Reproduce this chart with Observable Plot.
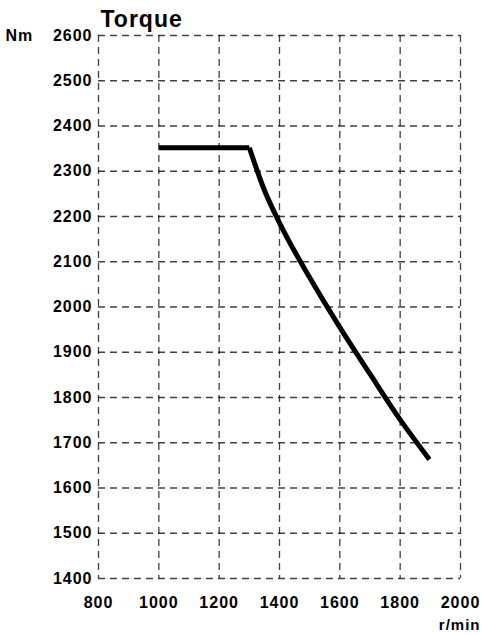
<!DOCTYPE html>
<html><head><meta charset="utf-8">
<script src="https://cdn.jsdelivr.net/npm/d3@7"></script>
<script src="https://cdn.jsdelivr.net/npm/@observablehq/plot@0.6"></script>
<style>body{margin:0;background:#fff}</style>
</head><body><div id="chart"></div>
<script>
// flat (constant-torque) part
const flatRpm = [1000, 1300];
const flatTorque = [2352, 2352];
// falling part
const fallRpm = [1300, 1350, 1400, 1500, 1600, 1700, 1800, 1897];
const fallTorque = [2352, 2258, 2186, 2065, 1955, 1852, 1751, 1663];
const xTicks = [800, 1000, 1200, 1400, 1600, 1800, 2000];
const yTicks = [1400, 1500, 1600, 1700, 1800, 1900, 2000, 2100, 2200, 2300, 2400, 2500, 2600];
const titleText = "Torque";
const yUnit = "Nm";
const xUnit = "r/min";

const flat = flatRpm.map((r, i) => ({rpm: r, torque: flatTorque[i]}));
const fall = fallRpm.map((r, i) => ({rpm: r, torque: fallTorque[i]}));
const font = "'Liberation Sans', Arial, Helvetica, sans-serif";
const gridStyle = {stroke: "#000", strokeOpacity: 0.75, strokeWidth: 1.3, strokeDasharray: "7,5"};

const chart = Plot.plot({
  width: 482,
  height: 635,
  marginLeft: 98,
  marginRight: 22,
  marginTop: 35,
  marginBottom: 57,
  style: {fontFamily: font, fontWeight: "bold", fontSize: "16px", background: "#fff", color: "#000", letterSpacing: "1px"},
  x: {domain: [800, 2000]},
  y: {domain: [1400, 2600]},
  marks: [
    Plot.gridX(xTicks, gridStyle),
    Plot.gridY(yTicks, gridStyle),
    Plot.axisX(xTicks, {tickSize: 0, tickPadding: 18, label: null, tickFormat: d => String(d), fontWeight: "bold"}),
    Plot.axisY(yTicks, {tickSize: 0, tickPadding: 6, label: null, tickFormat: d => String(d), fontWeight: "bold"}),
    Plot.line(flat, {x: "rpm", y: "torque", stroke: "#000", strokeWidth: 5, strokeLinecap: "butt"}),
    Plot.line(fall, {x: "rpm", y: "torque", stroke: "#000", strokeWidth: 5, curve: "monotone-x", strokeLinecap: "butt"}),
    Plot.text([titleText], {frameAnchor: "top-left", dx: 2, dy: -9, textAnchor: "start", lineAnchor: "bottom", fontSize: 23, fontWeight: "bold"}),
    Plot.text([yUnit], {frameAnchor: "top-left", dx: -93, textAnchor: "start", lineAnchor: "middle", fontSize: 16, fontWeight: "bold"}),
    Plot.text([xUnit], {frameAnchor: "bottom-right", dx: 20, dy: 47, textAnchor: "end", lineAnchor: "middle", fontSize: 15, fontWeight: "bold"})
  ]
});
document.getElementById("chart").appendChild(chart);
</script>
</body></html>
